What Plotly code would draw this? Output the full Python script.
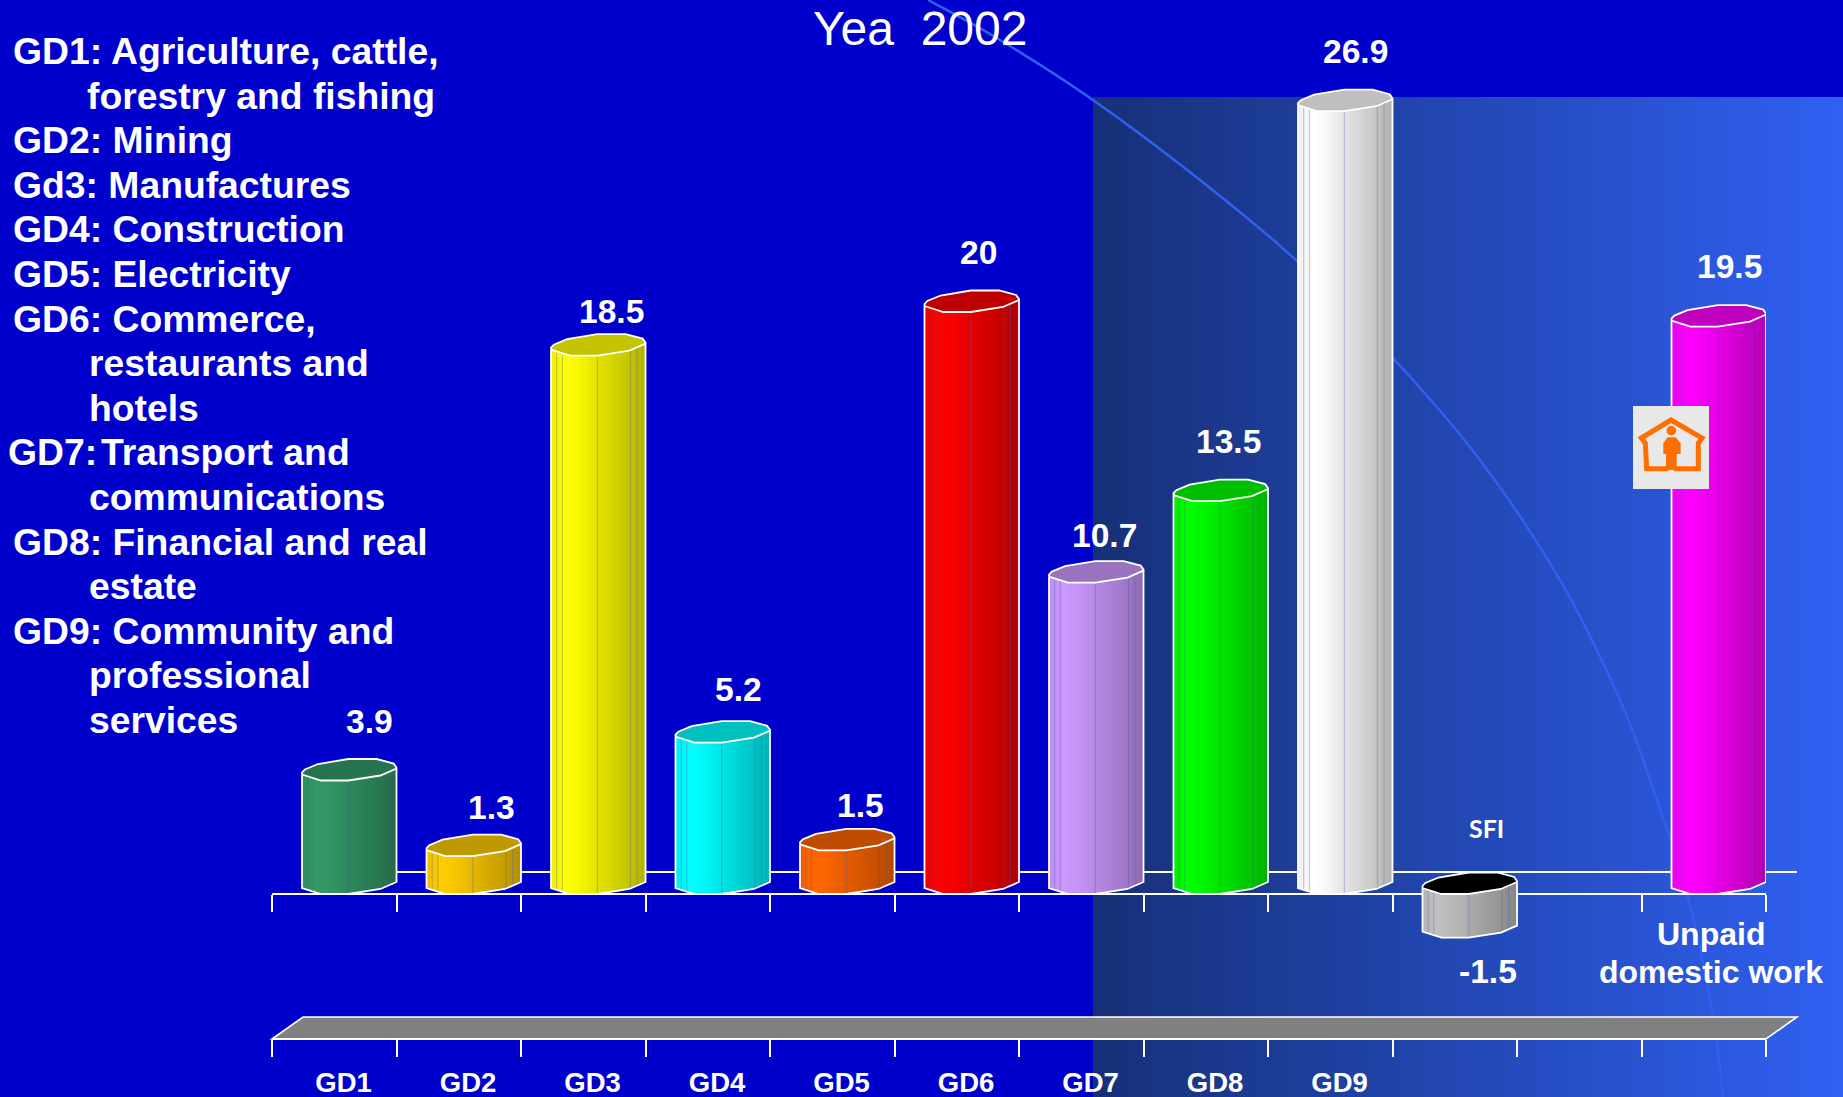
import numpy as np
import plotly.graph_objects as go

# ---------- data ----------
categories = ["GD1", "GD2", "GD3", "GD4", "GD5", "GD6", "GD7", "GD8", "GD9", "SFI", "Unpaid domestic work"]
values = [3.9, 1.3, 18.5, 5.2, 1.5, 20, 10.7, 13.5, 26.9, -1.5, 19.5]
slots = [0, 1, 2, 3, 4, 5, 6, 7, 8, 9, 11]
axis_labels = ["GD1", "GD2", "GD3", "GD4", "GD5", "GD6", "GD7", "GD8", "GD9"]
legend_lines = [
    "GD1: Agriculture, cattle,", "forestry and fishing", "GD2: Mining", "Gd3: Manufactures",
    "GD4: Construction", "GD5: Electricity", "GD6: Commerce,", "restaurants and", "hotels",
    "GD7:", "communications", "GD8: Financial and real", "estate",
    "GD9: Community and", "professional", "services",
]
legend_rows = [0, 1, 2, 3, 4, 5, 6, 7, 8, 9, 10, 11, 12, 13, 14, 15]

# ---------- styles ----------
colors = ["#339966", "#FFCC00", "#FFFF00", "#00FFFF", "#FF6600", "#FF0000", "#CC99FF", "#00FF00", "#FFFFFF", "#C0C0C0", "#FF00FF"]
cap_colors = ["#267350", "#BF9900", "#C4C400", "#00C0C0", "#BF4D00", "#BF0000", "#9973BF", "#00BF00", "#BFBFBF", "#000000", "#BF00BF"]
W, H = 1843, 1097
AX_L, AX_R = 272, 1766
Y0_PX, LOW_PX = 894, 1039
PX_PER_UNIT = 29.1
BAR_W = 94.5 / 124.5
FONT = "Liberation Sans"

def px(x): return x / W
def py(y): return 1 - y / H

front_u = [0, .2, .49, .83, 1]
front_px = [6, 0, 0, 5, 12]
back_u = [0, .03, .17, .49, .79, .97, 1]
back_px = [8, 11, 16.5, 21.5, 21.5, 17, 13]
shade_u = [0, .03, .16, .3, .5, .7, .85, 1]
shade_v = [.92, .95, 1, .97, .89, .82, .76, .70]
seam_u = [.06, .12, .49, .84, .91]

def front(u): return np.interp(u, front_u, front_px) / PX_PER_UNIT
def shade(hexc, s):
    r, g, b = (int(hexc[i:i + 2], 16) for i in (1, 3, 5))
    return f"rgb({r*s:.0f},{g*s:.0f},{b*s:.0f})"

fig = go.Figure()
N = 24  # visible facets, as in the reference
for slot, v, c, cap in zip(slots, values, colors, cap_colors):
    left = slot + 1 - BAR_W
    us = (np.arange(N) + .5) / N
    fig.add_trace(go.Bar(
        x=left + us * BAR_W, y=[v] * N, base=front(us), width=[BAR_W / N * 1.06] * N,
        marker=dict(color=[shade(c, np.interp(u, shade_u, shade_v)) for u in us], line=dict(width=0)),
        hoverinfo="skip", showlegend=False, cliponaxis=False))

for slot, v, c, cap in zip(slots, values, colors, cap_colors):
    left = slot + 1 - BAR_W
    top, bot = max(v, 0), min(v, 0)
    # seams
    sx, sy = [], []
    for u in seam_u:
        sx += [left + u * BAR_W] * 2 + [None]
        sy += [bot + front(u), top + front(u), None]
    fig.add_trace(go.Scatter(x=sx, y=sy, mode="lines", line=dict(color="rgba(70,90,170,0.35)", width=1),
                             hoverinfo="skip", showlegend=False, cliponaxis=False))
    # silhouette
    fu = np.array(front_u)
    fig.add_trace(go.Scatter(
        x=[left] + list(left + fu * BAR_W) + [left + BAR_W],
        y=[top + front(0)] + list(bot + front(fu)) + [top + front(1)],
        mode="lines", line=dict(color="white", width=1.8), hoverinfo="skip", showlegend=False, cliponaxis=False))
    # top cap
    bu = np.array(back_u)
    cx = list(left + fu * BAR_W) + list(left + bu[::-1] * BAR_W) + [left]
    cy = list(top + front(fu)) + list(top + np.array(back_px[::-1]) / PX_PER_UNIT) + [top + front(0)]
    fig.add_trace(go.Scatter(x=cx, y=cy, mode="lines", fill="toself", fillcolor=cap,
                             line=dict(color="white", width=1.8), hoverinfo="skip", showlegend=False, cliponaxis=False))

# helper traces so the two lower axes get drawn
for ax in ("x2", "x3"):
    fig.add_trace(go.Scatter(x=[0], y=[0], xaxis=ax, mode="markers", marker=dict(opacity=0, size=1),
                             hoverinfo="skip", showlegend=False))

# ---------- background decoration ----------
shapes = []
G0, G1 = np.array([22, 48, 120]), np.array([48, 96, 242])
GX0 = 1093
steps = 150
for i in range(steps):
    t = i / (steps - 1)
    x0 = GX0 + (W - GX0) * i / steps
    x1 = GX0 + (W - GX0) * (i + 1) / steps + (1 if i < steps - 1 else 0)
    col = G0 + (G1 - G0) * t
    shapes.append(dict(type="rect", xref="paper", yref="paper", x0=px(x0), x1=px(x1), y0=py(97), y1=py(H),
                       fillcolor=f"rgb({col[0]:.0f},{col[1]:.0f},{col[2]:.0f})", line=dict(width=0), layer="below"))

arc = [(928, 0), (1000, 40), (1093, 100), (1200, 180), (1298, 262), (1393, 358), (1480, 460),
       (1560, 580), (1620, 700), (1650, 780), (1687, 894), (1713, 1017), (1723, 1097)]
d = f"M {px(arc[0][0]):.5f},{py(arc[0][1]):.5f}"
for i in range(len(arc) - 1):
    p0 = np.array(arc[max(i - 1, 0)], float); p1 = np.array(arc[i], float)
    p2 = np.array(arc[i + 1], float); p3 = np.array(arc[min(i + 2, len(arc) - 1)], float)
    c1 = p1 + (p2 - p0) / 6; c2 = p2 - (p3 - p1) / 6
    d += f" C {px(c1[0]):.5f},{py(c1[1]):.5f} {px(c2[0]):.5f},{py(c2[1]):.5f} {px(p2[0]):.5f},{py(p2[1]):.5f}"
shapes.append(dict(type="path", xref="paper", yref="paper", path=d, line=dict(color="#3060F0", width=2.5), layer="below"))

def poly(points):
    return "M " + " L ".join(f"{px(x):.5f},{py(y):.5f}" for x, y in points)

# back line of the zero plane
shapes.append(dict(type="line", xref="paper", yref="paper", x0=px(303), x1=px(1797), y0=py(872), y1=py(872),
                   line=dict(color="white", width=1.8), layer="below"))
# lower grey plate
shapes.append(dict(type="path", xref="paper", yref="paper",
                   path=poly([(272, 1039), (303, 1017), (1797, 1017), (1766, 1039)]) + " Z",
                   fillcolor="#808080", line=dict(color="white", width=1.6), layer="below"))

# house icon
def iz(zx, zy): return (1600 + zx / 3, 280 + zy / 3)
ORANGE = "#FF6E00"
shapes.append(dict(type="rect", xref="paper", yref="paper", x0=px(1633), x1=px(1709), y0=py(406), y1=py(489),
                   fillcolor="#E8E8E8", line=dict(width=0), layer="above"))
house = [(205, 566), (140, 566), (136, 490), (124, 474), (213, 420), (306, 474), (295, 490), (295, 566), (222, 566)]
shapes.append(dict(type="path", xref="paper", yref="paper", path=poly([iz(*p) for p in house]),
                   line=dict(color=ORANGE, width=5), layer="above"))
person = [(190, 490), (203, 472), (227, 472), (242, 490), (242, 522), (230, 522), (230, 570), (198, 570), (198, 522), (190, 522)]
shapes.append(dict(type="path", xref="paper", yref="paper", path=poly([iz(*p) for p in person]) + " Z",
                   fillcolor=ORANGE, line=dict(width=0), layer="above"))
hx, hy = iz(214, 452)
shapes.append(dict(type="circle", xref="paper", yref="paper", x0=px(hx - 4.8), x1=px(hx + 4.8), y0=py(hy - 4.8), y1=py(hy + 4.8),
                   fillcolor=ORANGE, line=dict(width=0), layer="above"))

# ---------- text ----------
ann = []
def text(t, x, y, size, anchor="center", bold=True, family=FONT):
    s = f"<b>{t}</b>" if bold else t
    ann.append(dict(text=s, xref="paper", yref="paper", x=px(x), y=py(y), xanchor=anchor, yanchor="middle",
                    showarrow=False, font=dict(family=family, size=size, color="white"), borderpad=0))

LEG_X = [12, 86, 12, 12, 12, 12, 12, 88, 88, 7, 88, 12, 88, 12, 88, 88]
for line, row, lx in zip(legend_lines, legend_rows, LEG_X):
    text(line, lx, 51 + 44.6 * row, 37.3, "left")
text("Transport and", 100, 51 + 44.6 * 9, 37.3, "left")

label_px = [(369, 721), (491, 807), (611, 312), (738, 689), (860, 805), (978, 253),
            (1104, 535), (1228, 442), (1355, 52), (1488, 971), (1729, 266)]
for v, (lx, ly) in zip(values, label_px):
    text(f"{v:g}", lx, ly, 33.6)
text("SFI", 1486, 828, 25, family="Lato")
text("Unpaid", 1711, 934, 32)
text("domestic work", 1711, 972, 32)
text("Yea\u00a0 2002", 920, 29, 48, bold=False)

tick = dict(ticks="outside", ticklen=17, tickwidth=2, tickcolor="white", showline=True, linecolor="white", linewidth=2,
            showgrid=False, zeroline=False, range=[0, 12], domain=[AX_L / W, AX_R / W], anchor="free", automargin=False,
            tickmode="array", tickvals=list(range(13)), showticklabels=False, layer="below traces")

fig.update_layout(
    width=W, height=H, margin=dict(l=0, r=0, t=0, b=0, autoexpand=False), autosize=False,
    paper_bgcolor="#0000CC", plot_bgcolor="rgba(0,0,0,0)", barmode="overlay", bargap=0, showlegend=False,
    xaxis=dict(position=py(Y0_PX), **tick),
    xaxis2=dict(position=py(LOW_PX), overlaying="x", **tick),
    xaxis3=dict(position=py(LOW_PX + 24), overlaying="x", range=[0, 12], domain=[AX_L / W, AX_R / W], anchor="free",
                automargin=False, showline=False, showgrid=False, zeroline=False, ticks="", tickmode="array",
                tickvals=[i + 0.575 for i in range(len(axis_labels))], ticktext=[f"<b>{t}</b>" for t in axis_labels],
                tickfont=dict(family=FONT, size=27.5, color="white"), side="bottom"),
    yaxis=dict(domain=[0, 1], range=[-(H - Y0_PX) / PX_PER_UNIT, Y0_PX / PX_PER_UNIT], visible=False, fixedrange=True,
               automargin=False),
    shapes=shapes, annotations=ann,
)
fig.write_html("out.html", config=dict(displayModeBar=False),
               post_script="document.body.style.margin='0';document.body.style.overflow='hidden';")
